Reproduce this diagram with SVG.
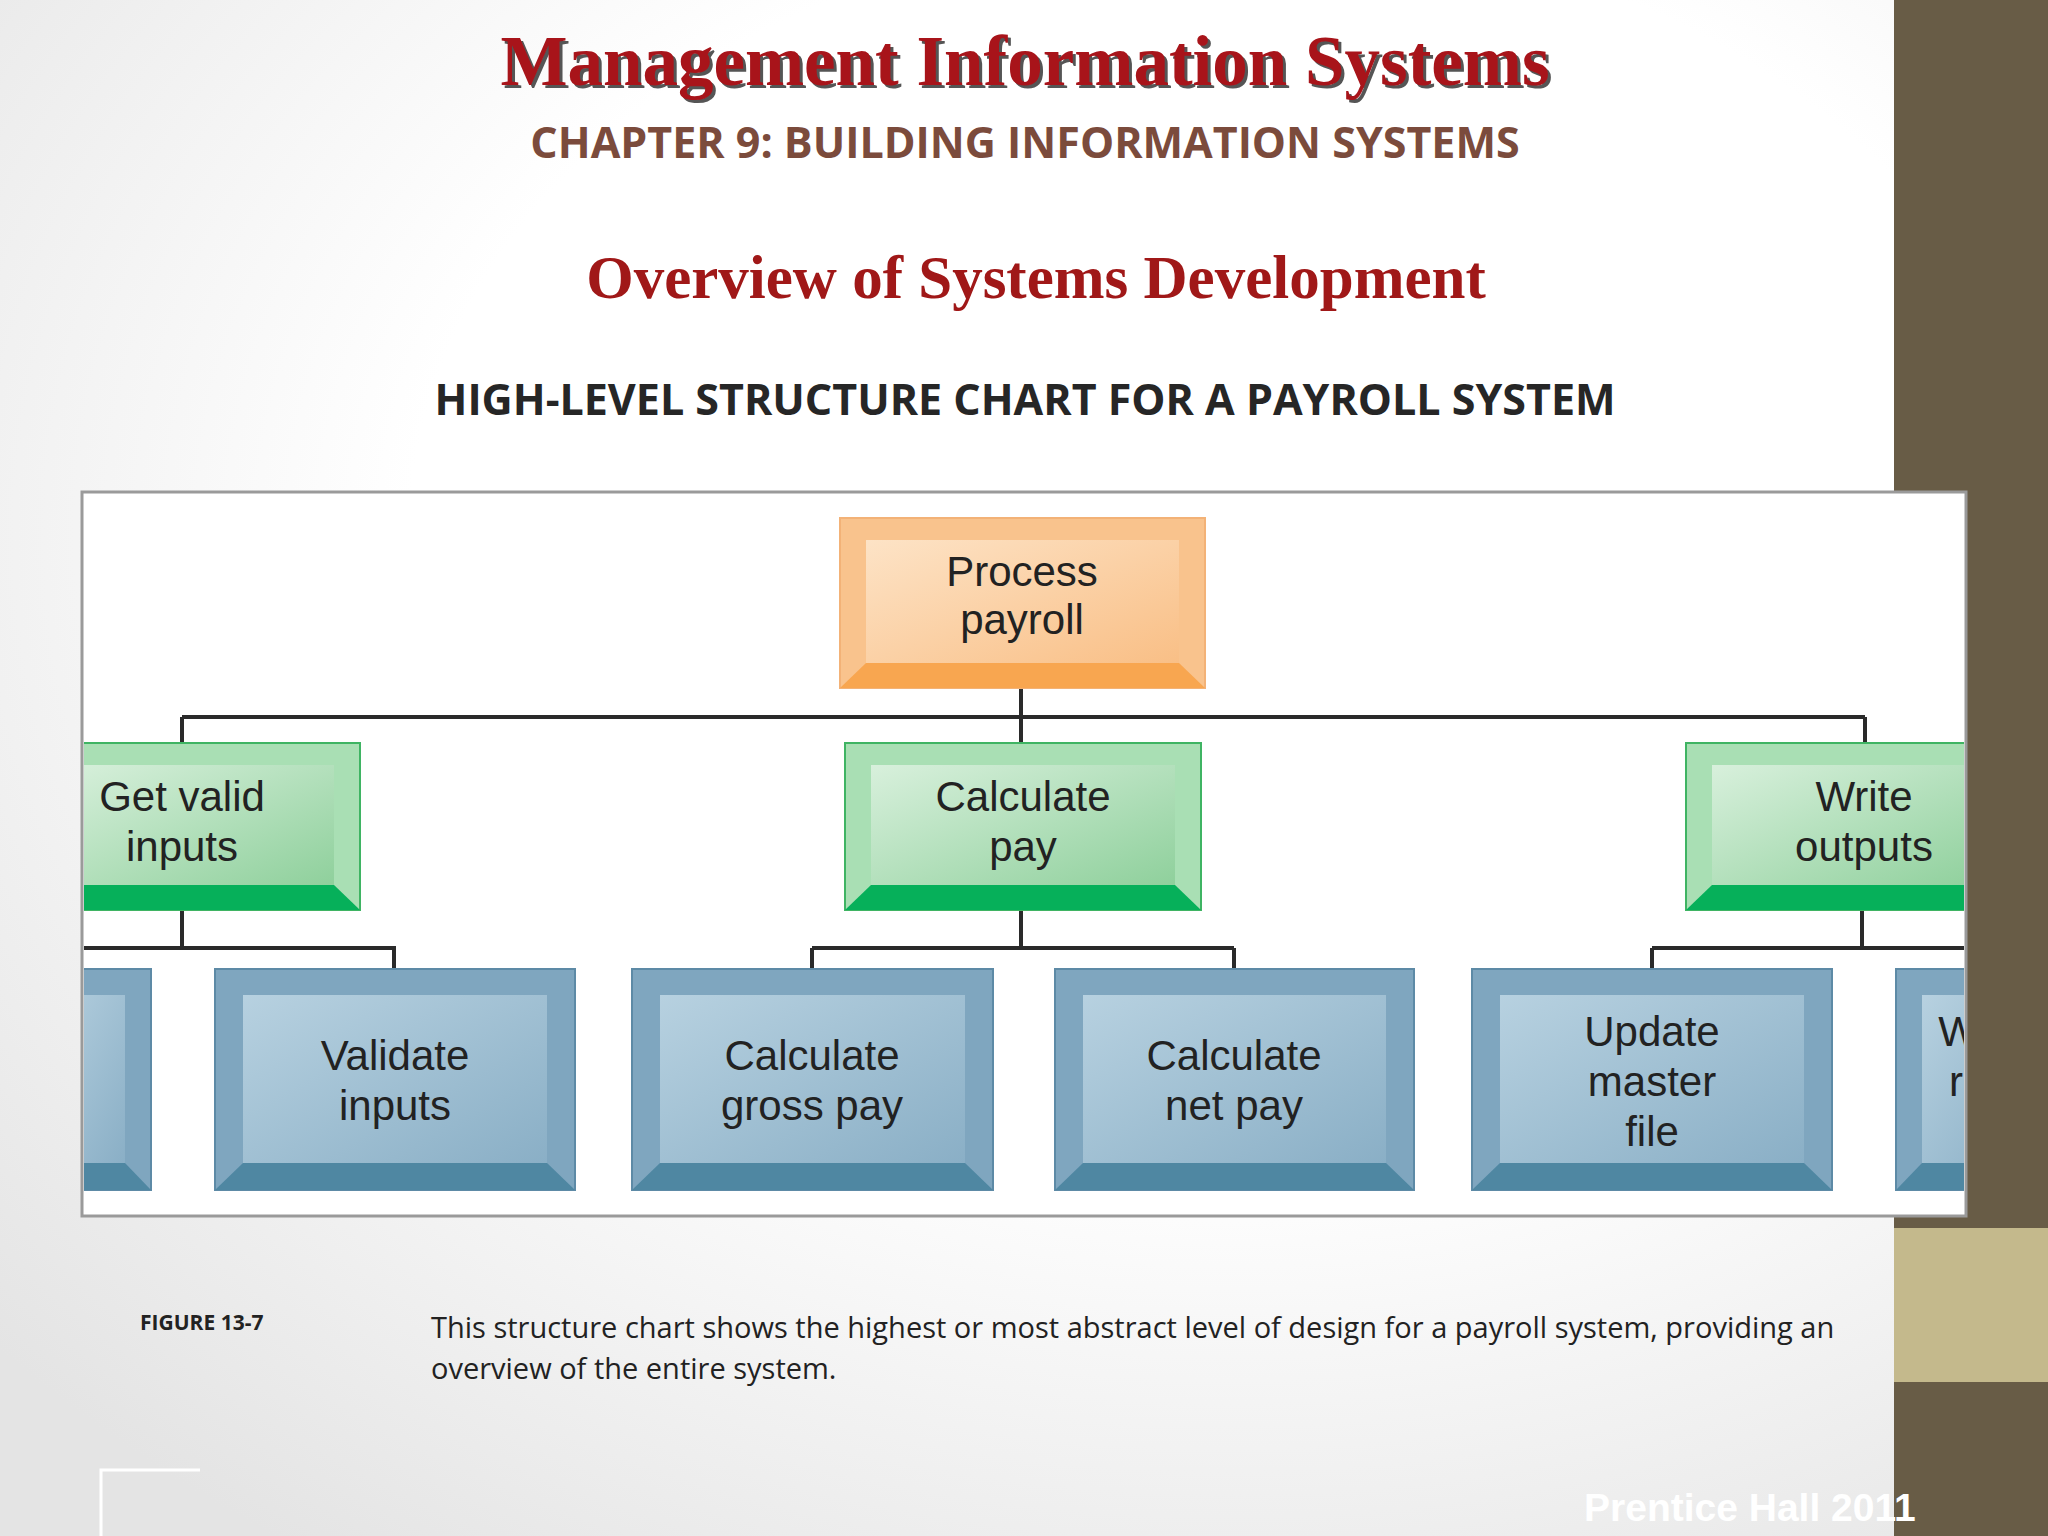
<svg xmlns="http://www.w3.org/2000/svg" width="2048" height="1536" viewBox="0 0 2048 1536">
<defs>
<radialGradient id="bg" cx="0.6" cy="0.35" r="0.8"><stop offset="0.5" stop-color="#ffffff"/><stop offset="1" stop-color="#e4e4e4"/></radialGradient>
<linearGradient id="og" x1="0" y1="0" x2="1" y2="1"><stop offset="0" stop-color="#fde3c6"/><stop offset="1" stop-color="#f9bf86"/></linearGradient>
<linearGradient id="gg" x1="0" y1="0" x2="1" y2="1"><stop offset="0" stop-color="#d8f0dc"/><stop offset="1" stop-color="#8fd09c"/></linearGradient>
<linearGradient id="bg2" x1="0" y1="0" x2="1" y2="1"><stop offset="0" stop-color="#b7d1e0"/><stop offset="1" stop-color="#8aafc6"/></linearGradient>
<clipPath id="frame"><rect x="84" y="494" width="1880" height="720"/></clipPath>
<style>
.ln{stroke:#2a2a2a;stroke-width:4;fill:none}
.bt{font-family:"Liberation Sans",Arial,sans-serif;font-size:42px;fill:#222;text-anchor:middle}
.o1{fill:#f9c38d;stroke:#f3b277;stroke-width:2}.o2{fill:url(#og)}.o3{fill:#f8a650}
.g1{fill:#a9dfb4;stroke:#3fb463;stroke-width:2}.g2{fill:url(#gg)}.g3{fill:#06b05a}
.b1{fill:#7fa6bf;stroke:#5d8aa6;stroke-width:2}.b2{fill:url(#bg2)}.b3{fill:#4f87a2}
</style>
</defs>
<rect width="2048" height="1536" fill="url(#bg)"/>
<rect x="1894" y="0" width="154" height="1536" fill="#685c46"/>
<rect x="1894" y="1228" width="154" height="154" fill="#c4b98c"/>
<text x="1028" y="88" font-family="Liberation Serif,serif" font-weight="bold" font-size="71" fill="#555" text-anchor="middle">Management Information Systems</text>
<text x="1025" y="85" font-family="Liberation Serif,serif" font-weight="bold" font-size="71" fill="#a8141a" text-anchor="middle">Management Information Systems</text>
<text x="1025" y="158" font-family="Open Sans,sans-serif" font-weight="bold" font-size="43" fill="#7b4b3c" text-anchor="middle">CHAPTER 9: BUILDING INFORMATION SYSTEMS</text>
<text x="1036" y="298" font-family="Liberation Serif,serif" font-weight="bold" font-size="61" fill="#a01818" text-anchor="middle">Overview of Systems Development</text>
<text x="1025" y="415" font-family="Open Sans,sans-serif" font-weight="bold" font-size="43" fill="#262626" text-anchor="middle">HIGH-LEVEL STRUCTURE CHART FOR A PAYROLL SYSTEM</text>
<rect x="82" y="492" width="1884" height="724" fill="#fff" stroke="#9a9a9a" stroke-width="3"/>
<g clip-path="url(#frame)">
<g id="connectors">
<path class="ln" d="M1021 688V717M182 717H1865M182 717V743M1021 717V743M1865 717V743"/>
<path class="ln" d="M182 910V948M60 948H394V969M1021 910V948M812 948H1234M812 948V969M1234 948V969M1862 910V948M1652 948H1990M1652 948V969"/>
</g>
<g id="process"><rect class="o1" x="840" y="518" width="365" height="170"/><rect class="o2" x="866" y="540" width="313" height="123"/><polygon class="o3" points="840,688 866,663 1179,663 1205,688"/><text class="bt" x="1022" y="586">Process</text><text class="bt" x="1022" y="634">payroll</text></g>
<g id="getvalid"><rect class="g1" x="60" y="743" width="300" height="167"/><rect class="g2" x="60" y="765" width="274" height="120"/><polygon class="g3" points="60,910 60,885 334,885 360,910"/><text class="bt" x="182" y="811">Get valid</text><text class="bt" x="182" y="861">inputs</text></g>
<g id="calcpay"><rect class="g1" x="845" y="743" width="356" height="167"/><rect class="g2" x="871" y="765" width="304" height="120"/><polygon class="g3" points="845,910 871,885 1175,885 1201,910"/><text class="bt" x="1023" y="811">Calculate</text><text class="bt" x="1023" y="861">pay</text></g>
<g id="write"><rect class="g1" x="1686" y="743" width="300" height="167"/><rect class="g2" x="1712" y="765" width="274" height="120"/><polygon class="g3" points="1686,910 1712,885 1990,885 1990,910"/><text class="bt" x="1864" y="811">Write</text><text class="bt" x="1864" y="861">outputs</text></g>
<g id="b0"><rect class="b1" x="40" y="969" width="111" height="221"/><rect class="b2" x="40" y="995" width="85" height="168"/><polygon class="b3" points="40,1190 40,1163 125,1163 151,1190"/></g>
<g id="validate"><rect class="b1" x="215" y="969" width="360" height="221"/><rect class="b2" x="243" y="995" width="304" height="168"/><polygon class="b3" points="215,1190 243,1163 547,1163 575,1190"/><text class="bt" x="395" y="1070">Validate</text><text class="bt" x="395" y="1120">inputs</text></g>
<g id="gross"><rect class="b1" x="632" y="969" width="361" height="221"/><rect class="b2" x="660" y="995" width="305" height="168"/><polygon class="b3" points="632,1190 660,1163 965,1163 993,1190"/><text class="bt" x="812" y="1070">Calculate</text><text class="bt" x="812" y="1120">gross pay</text></g>
<g id="net"><rect class="b1" x="1055" y="969" width="359" height="221"/><rect class="b2" x="1083" y="995" width="303" height="168"/><polygon class="b3" points="1055,1190 1083,1163 1386,1163 1414,1190"/><text class="bt" x="1234" y="1070">Calculate</text><text class="bt" x="1234" y="1120">net pay</text></g>
<g id="update"><rect class="b1" x="1472" y="969" width="360" height="221"/><rect class="b2" x="1500" y="995" width="304" height="168"/><polygon class="b3" points="1472,1190 1500,1163 1804,1163 1832,1190"/><text class="bt" x="1652" y="1046">Update</text><text class="bt" x="1652" y="1096">master</text><text class="bt" x="1652" y="1146">file</text></g>
<g id="b6"><rect class="b1" x="1896" y="969" width="140" height="221"/><rect class="b2" x="1922" y="995" width="110" height="168"/><polygon class="b3" points="1896,1190 1922,1163 2036,1163 2036,1190"/><text class="bt" x="1958" y="1046" text-anchor="start">W</text><text class="bt" x="1956" y="1096" text-anchor="start">r</text></g>
</g>
<text x="140" y="1330" font-family="Open Sans,sans-serif" font-weight="bold" font-size="21" fill="#222">FIGURE 13-7</text>
<text font-family="Open Sans,sans-serif" font-size="29" fill="#222"><tspan x="431" y="1338">This structure chart shows the highest or most abstract level of design for a payroll system, providing an</tspan><tspan x="431" y="1379">overview of the entire system.</tspan></text>
<path d="M101 1536V1470H200" fill="none" stroke="#fff" stroke-width="3"/>
<text x="1584" y="1521" font-family="Liberation Sans,sans-serif" font-weight="bold" font-size="39" fill="#fff">Prentice Hall 2011</text>
</svg>
